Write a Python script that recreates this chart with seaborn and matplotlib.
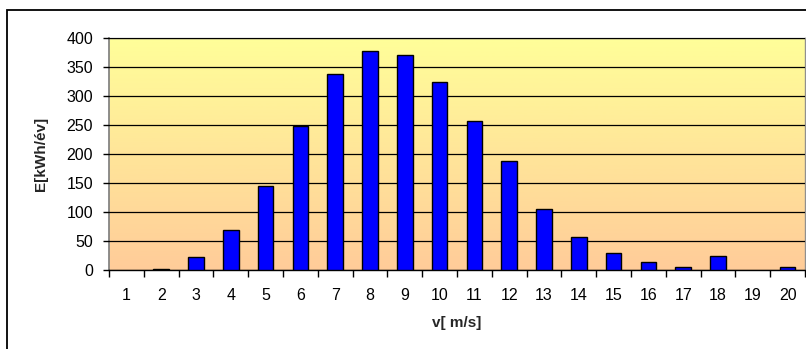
import numpy as np
import pandas as pd
import matplotlib
matplotlib.use("Agg")
import matplotlib.pyplot as plt
from matplotlib.colors import LinearSegmentedColormap
from matplotlib.patches import Rectangle
import seaborn as sns

# Wind speed classes and yearly energy per class
speeds = [str(v) for v in range(1, 21)]
energy = [0, 2, 22, 69, 145, 248, 338, 377, 370, 324,
          257, 188, 105, 57, 29, 13, 6, 24, 0, 6]
y_ticks = [0, 50, 100, 150, 200, 250, 300, 350, 400]

sns.set_theme(style="white")
plt.rcParams["font.family"] = ["Liberation Sans", "DejaVu Sans"]

df = pd.DataFrame({"v": speeds, "E": energy})

W, H = 806, 349
fig = plt.figure(figsize=(W / 100, H / 100), dpi=100)
ax = fig.add_axes([109 / W, 1 - 270 / H, (805 - 109) / W, (270 - 37.7) / H])

# outer chart frame
fig.patches.append(Rectangle((7.5 / W, -0.1), 1.2, 1 - 10.5 / H + 0.1,
                             transform=fig.transFigure, fill=False,
                             edgecolor="black", linewidth=1.3, zorder=0))

# yellow-to-peach gradient behind the plot area
grad = LinearSegmentedColormap.from_list("bg", ["#FFCC99", "#FFFF99"])
ax.imshow(np.linspace(0, 1, 256).reshape(-1, 1), cmap=grad, origin="lower",
          aspect="auto", extent=[0, 1, 0, 1], transform=ax.transAxes, zorder=0)

sns.barplot(data=df, x="v", y="E", ax=ax, color="#0000FF", saturation=1,
            width=0.45, edgecolor="black", linewidth=1.0, zorder=3)

# empty classes get no outline
for patch in ax.patches:
    if patch.get_height() == 0:
        patch.set_linewidth(0)

ax.set_xlim(-0.5, len(speeds) - 0.5)
ax.set_ylim(0, 400)
ax.set_yticks(y_ticks)
ax.yaxis.grid(True, color="black", linewidth=0.9)
ax.set_axisbelow(False)
for line in ax.get_ygridlines():
    line.set_zorder(2)

# category separators as tick marks, labels centered
ax.set_xticks(range(len(speeds)))
ax.set_xticklabels(speeds)
ax.set_xticks(np.arange(-0.5, len(speeds), 1), minor=True)
ax.tick_params(axis="x", which="major", length=0, pad=13, labelsize=11.5,
               labelcolor="black")
ax.tick_params(axis="x", which="minor", length=5, width=1, color="black",
               direction="out", bottom=True)
ax.tick_params(axis="y", length=4.5, width=1, color="black", direction="out",
               left=True, pad=7, labelsize=11.5, labelcolor="black")

for side in ["top", "right"]:
    ax.spines[side].set_color("#909090")
    ax.spines[side].set_linewidth(1.0)
ax.spines["left"].set_color("#808080")
ax.spines["bottom"].set_color("black")
ax.spines["bottom"].set_linewidth(1.0)

ax.set_xlabel("v[ m/s]", fontweight="bold", fontsize=11, labelpad=9)
ax.set_ylabel("E[kWh/év]", fontweight="bold", fontsize=11, labelpad=13)

fig.savefig("out.png", dpi=100)
